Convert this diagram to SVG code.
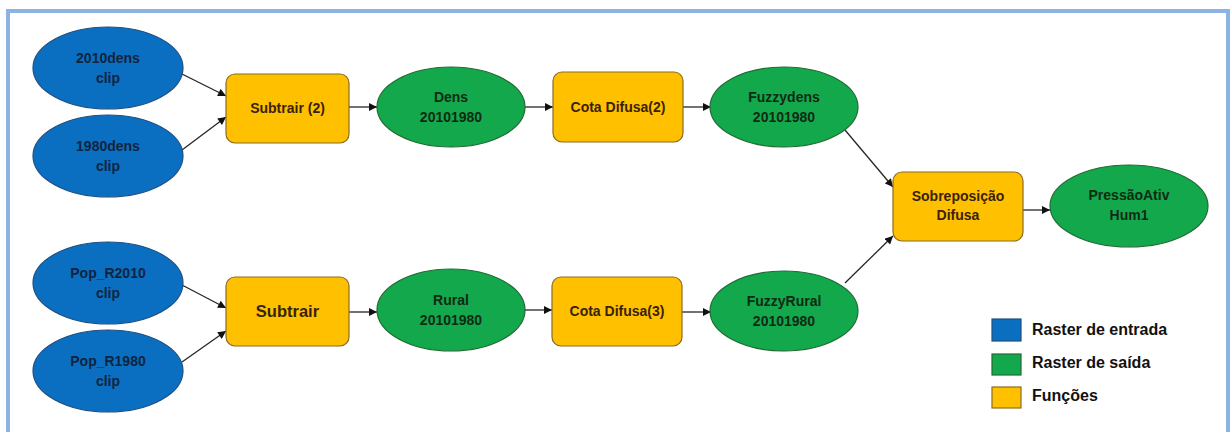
<svg xmlns="http://www.w3.org/2000/svg" width="1230" height="432" viewBox="0 0 1230 432">
  <style>
    .inp { fill: #0b6fc1; stroke: #1d4f82; stroke-width: 1.2; }
    .out { fill: #13a84c; stroke: #1e6b33; stroke-width: 1.2; }
    .fn  { fill: #ffc000; stroke: #8c6d1f; stroke-width: 1.2; }
    text { font-family: "Liberation Sans", Arial, sans-serif; font-weight: bold; font-size: 14px; text-anchor: middle; }
    .ti { fill: #10243f; }
    .to { fill: #0f2b14; }
    .tf { fill: #3a220a; }
    .big { font-size: 16.5px; }
    .leg { text-anchor: start; font-size: 16px; fill: #111; }
    .conn { stroke: #262626; stroke-width: 1.3; fill: none; marker-end: url(#arrow); }
  </style>
  <defs>
    <marker id="arrow" viewBox="0 0 10 10" refX="10" refY="5" markerWidth="9" markerHeight="8" markerUnits="userSpaceOnUse" orient="auto">
      <path d="M0,0 L10,5 L0,10 z" fill="#111"/>
    </marker>
  </defs>

  <rect width="1230" height="432" fill="#ffffff"/>
  <!-- frame: open at the bottom edge -->
  <path d="M8,440 L8,11 L1228,11 L1228,440" fill="none" stroke="#8db3e2" stroke-width="4"/>

  <g id="connectors">
    <line class="conn" x1="182" y1="74" x2="226" y2="96"/>
    <line class="conn" x1="182" y1="150" x2="226" y2="117"/>
    <line class="conn" x1="349" y1="107" x2="377" y2="107"/>
    <line class="conn" x1="525" y1="107" x2="553" y2="107"/>
    <line class="conn" x1="683" y1="107" x2="711" y2="107"/>
    <line class="conn" x1="845" y1="130" x2="893" y2="187"/>
    <line class="conn" x1="182" y1="285" x2="226" y2="308"/>
    <line class="conn" x1="182" y1="362" x2="226" y2="331"/>
    <line class="conn" x1="349" y1="312" x2="377" y2="312"/>
    <line class="conn" x1="525" y1="310" x2="552" y2="310"/>
    <line class="conn" x1="682" y1="312" x2="711" y2="312"/>
    <line class="conn" x1="845" y1="283" x2="893" y2="236"/>
    <line class="conn" x1="1023" y1="210" x2="1050" y2="210"/>
  </g>

  <g id="n2010dens">
    <ellipse class="inp" cx="108" cy="68" rx="75" ry="41"/>
    <text class="ti" x="108" y="63">2010dens</text>
    <text class="ti" x="108" y="83">clip</text>
  </g>
  <g id="n1980dens">
    <ellipse class="inp" cx="108" cy="156" rx="75" ry="41"/>
    <text class="ti" x="108" y="151">1980dens</text>
    <text class="ti" x="108" y="171">clip</text>
  </g>
  <g id="subtrair2">
    <rect class="fn" x="226" y="74" width="123" height="69" rx="9"/>
    <text class="tf" x="287.5" y="113">Subtrair (2)</text>
  </g>
  <g id="dens">
    <ellipse class="out" cx="451" cy="107" rx="74" ry="40"/>
    <text class="to" x="451" y="102">Dens</text>
    <text class="to" x="451" y="122">20101980</text>
  </g>
  <g id="cota2">
    <rect class="fn" x="553" y="72" width="130" height="70" rx="9"/>
    <text class="tf" x="618" y="112">Cota Difusa(2)</text>
  </g>
  <g id="fuzzydens">
    <ellipse class="out" cx="784" cy="107" rx="74" ry="40"/>
    <text class="to" x="784" y="102">Fuzzydens</text>
    <text class="to" x="784" y="122">20101980</text>
  </g>

  <g id="popr2010">
    <ellipse class="inp" cx="108" cy="283" rx="75" ry="41"/>
    <text class="ti" x="108" y="278">Pop_R2010</text>
    <text class="ti" x="108" y="298">clip</text>
  </g>
  <g id="popr1980">
    <ellipse class="inp" cx="108" cy="371" rx="75" ry="41"/>
    <text class="ti" x="108" y="366">Pop_R1980</text>
    <text class="ti" x="108" y="386">clip</text>
  </g>
  <g id="subtrair">
    <rect class="fn" x="226" y="277" width="123" height="69" rx="9"/>
    <text class="tf big" x="287.5" y="317">Subtrair</text>
  </g>
  <g id="rural">
    <ellipse class="out" cx="451" cy="310" rx="74" ry="41"/>
    <text class="to" x="451" y="305">Rural</text>
    <text class="to" x="451" y="325">20101980</text>
  </g>
  <g id="cota3">
    <rect class="fn" x="552" y="277" width="130" height="69" rx="9"/>
    <text class="tf" x="617" y="316">Cota Difusa(3)</text>
  </g>
  <g id="fuzzyrural">
    <ellipse class="out" cx="784" cy="311" rx="74" ry="40"/>
    <text class="to" x="784" y="306">FuzzyRural</text>
    <text class="to" x="784" y="326">20101980</text>
  </g>

  <g id="sobreposicao">
    <rect class="fn" x="893" y="172" width="130" height="69" rx="9"/>
    <text class="tf" x="958" y="201">Sobreposição</text>
    <text class="tf" x="958" y="220">Difusa</text>
  </g>
  <g id="pressao">
    <ellipse class="out" cx="1129" cy="206" rx="79" ry="41"/>
    <text class="to" x="1129" y="200">PressãoAtiv</text>
    <text class="to" x="1129" y="220">Hum1</text>
  </g>

  <g id="legend">
    <rect class="inp" x="992" y="319" width="29" height="22"/>
    <text class="leg" x="1032" y="335">Raster de entrada</text>
    <rect class="out" x="992" y="354" width="29" height="21"/>
    <text class="leg" x="1032" y="368">Raster de saída</text>
    <rect class="fn" x="992" y="387" width="29" height="21"/>
    <text class="leg" x="1032" y="401">Funções</text>
  </g>
</svg>
